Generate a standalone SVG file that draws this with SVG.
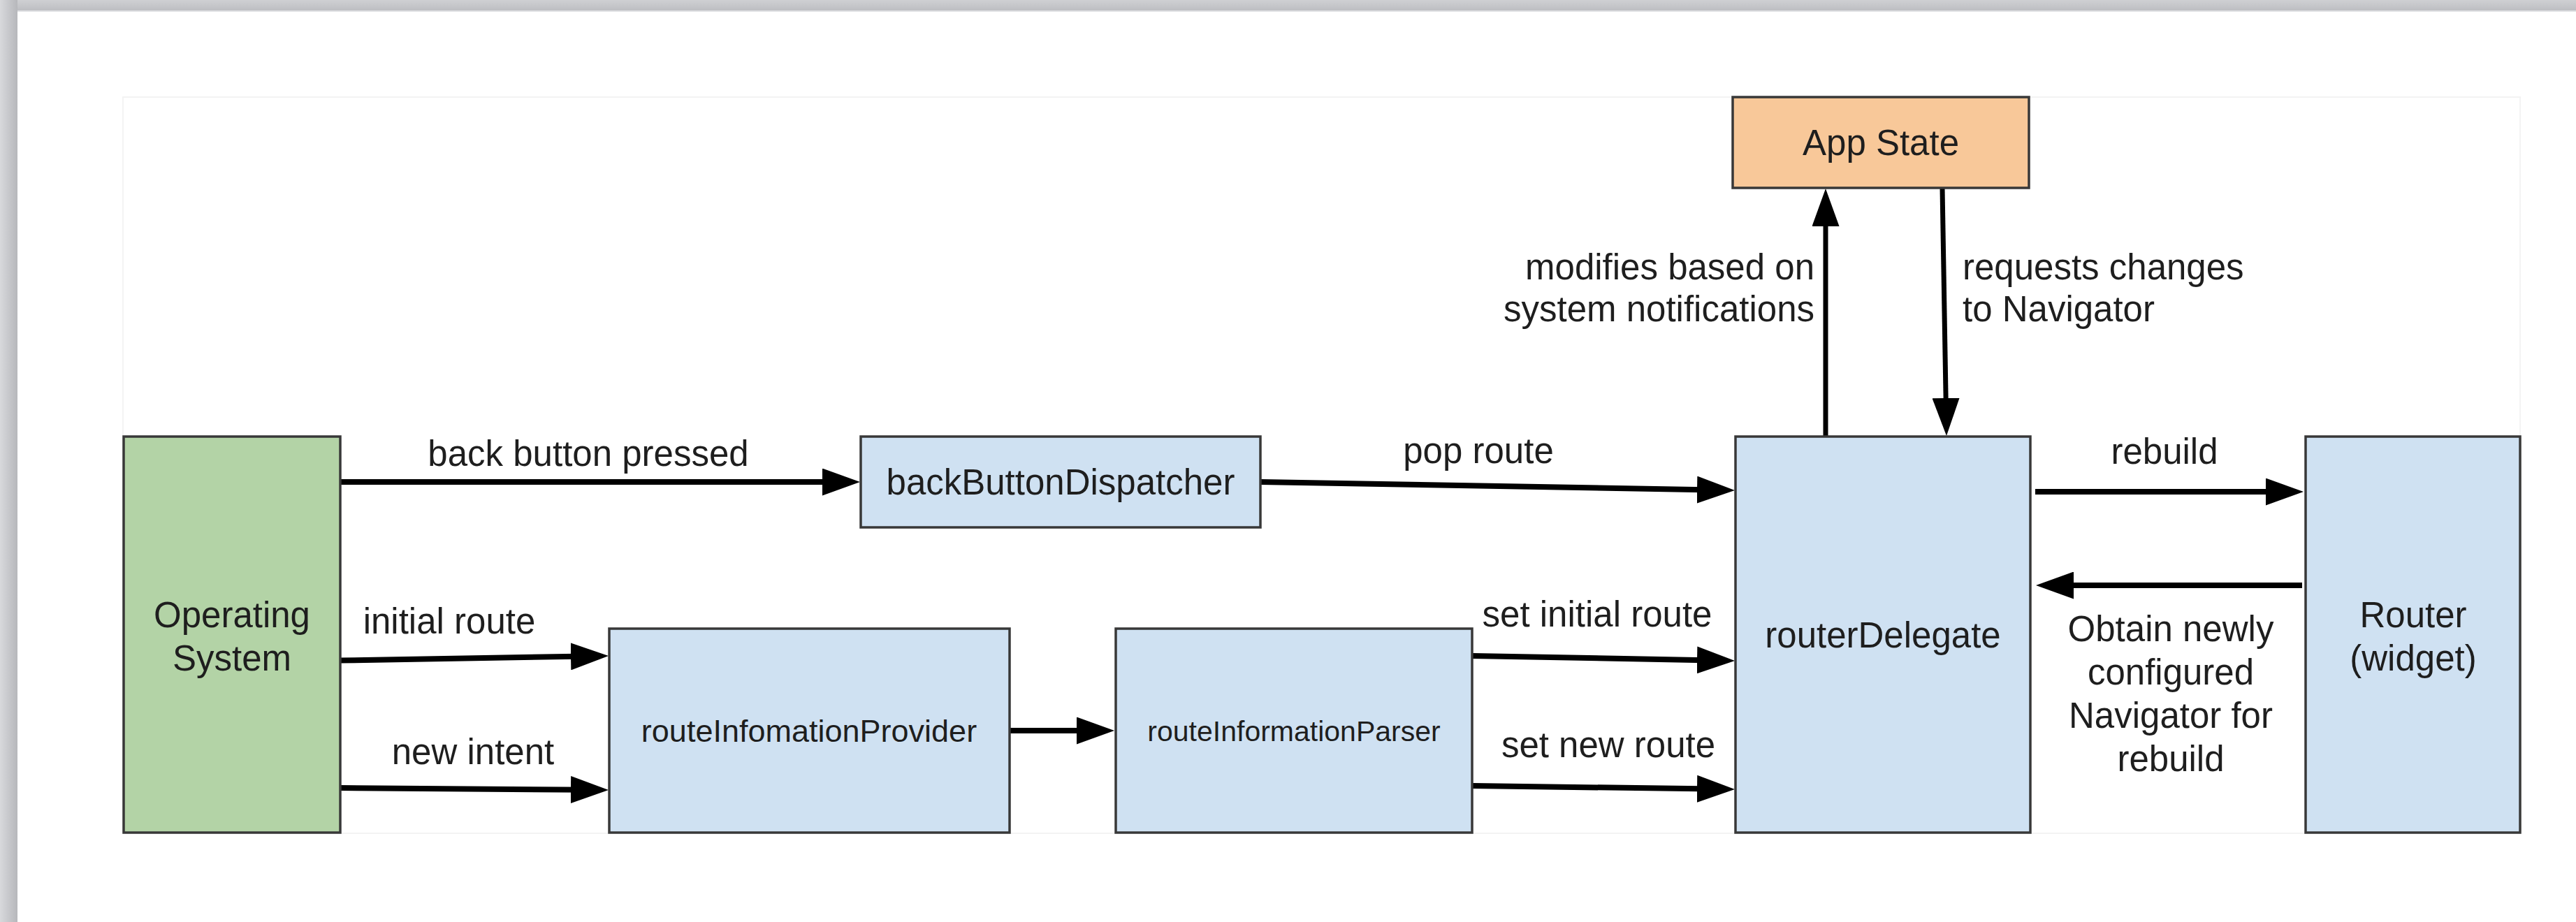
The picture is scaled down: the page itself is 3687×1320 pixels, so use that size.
<svg xmlns="http://www.w3.org/2000/svg" width="3687" height="1320" viewBox="0 0 3687 1320">
  <style>
    .box { stroke: #383838; stroke-width: 3.5; }
    .blue { fill: #cfe1f2; }
    .green { fill: #b3d3a6; }
    .peach { fill: #f8c899; }
    text { font-family: "Liberation Sans", Arial, sans-serif; font-size: 51px; fill: #1e1e1e; }
    .c { text-anchor: middle; }
    .r { text-anchor: end; }
    .conn { fill: none; stroke: #000; stroke-width: 8; marker-end: url(#ah); }
    .vconn { fill: none; stroke: #000; stroke-width: 7; marker-end: url(#ah); }
  </style>
  <defs>
    <marker id="ah" markerUnits="userSpaceOnUse" markerWidth="54" markerHeight="39" refX="24" refY="19.5" orient="auto">
      <path d="M0,0 L54,19.5 L0,39 Z" fill="#000"/>
    </marker>
    <linearGradient id="topbar" x1="0" y1="0" x2="0" y2="1">
      <stop offset="0" stop-color="#cfd0d3"/>
      <stop offset="1" stop-color="#bdbec2"/>
    </linearGradient>
    <linearGradient id="leftbar" x1="0" y1="0" x2="1" y2="0">
      <stop offset="0" stop-color="#d8d9dc"/>
      <stop offset="1" stop-color="#b6b7bb"/>
    </linearGradient>
  </defs>

  <rect x="0" y="0" width="3687" height="1320" fill="#ffffff"/>
  <rect x="0" y="0" width="3687" height="15" fill="url(#topbar)"/>
  <rect x="0" y="15" width="3687" height="2" fill="#e2e3e6"/>
  <rect x="0" y="0" width="25" height="1320" fill="url(#leftbar)"/>
  <rect x="176" y="139" width="3431" height="1054" fill="none" stroke="#f3f3f3" stroke-width="2"/>

  <g id="connectors">
    <path class="conn" d="M488,690 L1201,690"/>
    <path class="conn" d="M1805,690 L2453,701.5"/>
    <path class="conn" d="M487,945.6 L841,939.5"/>
    <path class="conn" d="M487,1128 L841,1130.8"/>
    <path class="conn" d="M1446,1046 L1565,1046"/>
    <path class="conn" d="M2108,939 L2453,945.4"/>
    <path class="conn" d="M2108,1125 L2453,1129.6"/>
    <path class="conn" d="M2913,704 L3267,704"/>
    <path class="conn" d="M3295,838 L2944,838"/>
    <path class="vconn" d="M2613,625 L2613,300"/>
    <path class="vconn" d="M2780,269 L2785.5,594"/>
    <text class="c" x="842" y="667">back button pressed</text>
    <text class="c" x="2116" y="663">pop route</text>
    <text class="c" x="643" y="907">initial route</text>
    <text class="c" x="677" y="1094">new intent</text>
    <text class="c" x="2286" y="897">set initial route</text>
    <text class="c" x="2302" y="1084">set new route</text>
    <text class="c" x="3098" y="664">rebuild</text>
    <text class="r" x="2597" y="400">modifies based on</text>
    <text class="r" x="2597" y="460">system notifications</text>
    <text x="2809" y="400">requests changes</text>
    <text x="2809" y="460">to Navigator</text>
    <text class="c" x="3107" y="918">Obtain newly</text>
    <text class="c" x="3107" y="980">configured</text>
    <text class="c" x="3107" y="1042">Navigator for</text>
    <text class="c" x="3107" y="1104">rebuild</text>
  </g>

  <g id="app-state">
    <rect class="box peach" x="2480" y="139" width="424" height="130"/>
    <text class="c" x="2692" y="222">App State</text>
  </g>
  <g id="operating-system">
    <rect class="box green" x="177" y="625" width="310" height="567"/>
    <text class="c" x="332" y="898">Operating</text>
    <text class="c" x="332" y="960">System</text>
  </g>
  <g id="back-button-dispatcher">
    <rect class="box blue" x="1232" y="625" width="572" height="130"/>
    <text class="c" x="1518" y="708">backButtonDispatcher</text>
  </g>
  <g id="route-information-provider">
    <rect class="box blue" x="872" y="900" width="573" height="292"/>
    <text class="c" x="1158" y="1062" style="font-size:45px">routeInfomationProvider</text>
  </g>
  <g id="route-information-parser">
    <rect class="box blue" x="1597" y="900" width="510" height="292"/>
    <text class="c" x="1852" y="1061" style="font-size:41px">routeInformationParser</text>
  </g>
  <g id="router-delegate">
    <rect class="box blue" x="2484" y="625" width="422" height="567"/>
    <text class="c" x="2695" y="927">routerDelegate</text>
  </g>
  <g id="router-widget">
    <rect class="box blue" x="3300" y="625" width="307" height="567"/>
    <text class="c" x="3454" y="898">Router</text>
    <text class="c" x="3454" y="960">(widget)</text>
  </g>
</svg>
